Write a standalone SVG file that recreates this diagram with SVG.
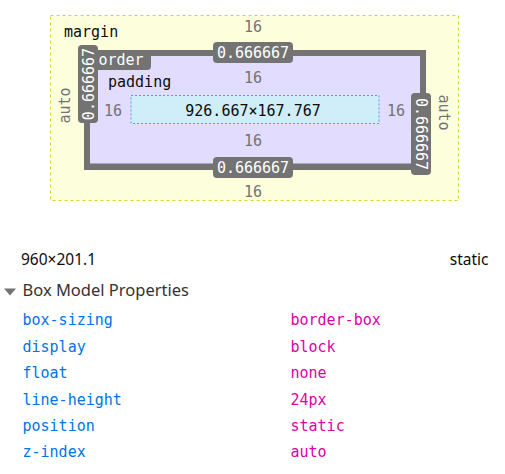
<svg xmlns="http://www.w3.org/2000/svg" width="505" height="474" viewBox="0 0 505 474">
<style>
.mono{font-family:"DejaVu Sans Mono","Liberation Mono",monospace;font-size:15px}
.g{fill:#737373}
.w{fill:#ffffff}
.k{fill:#0c0c0d}
.sans{font-family:"Noto Sans","Open Sans",sans-serif}
.prop{fill:#0074e8}
.val{fill:#dd00a9}
.mid{text-anchor:middle}
</style>
<rect width="505" height="474" fill="#ffffff"/>
<g id="margin">
<rect x="50.5" y="15.5" width="408" height="185" fill="#fdffdc" stroke="#d4d82a" stroke-width="1" stroke-dasharray="3,3"/>
<text class="mono k" x="64" y="37">margin</text>
<text class="mono g mid" x="253" y="31.5">16</text>
<text class="mono g mid" x="253" y="196.5">16</text>
<text class="mono g mid" transform="translate(66,105.5) rotate(-90)" y="4">auto</text>
<text class="mono g mid" transform="translate(442.5,112.5) rotate(90)" y="4">auto</text>
</g>
<g id="border">
<rect x="84" y="50" width="342" height="120" fill="#737373"/>
<rect x="90" y="56" width="330" height="107.5" fill="#e2dcff"/>
<path d="M84,50 H151 V66 Q151,70 147,70 H84 Z" fill="#737373"/>
<text class="mono w" x="98.5" y="65">order</text>
<rect x="213" y="42" width="80" height="21" rx="4" fill="#737373"/>
<text class="mono w mid" x="253" y="57.5">0.666667</text>
<rect x="213" y="157" width="80" height="21" rx="4" fill="#737373"/>
<text class="mono w mid" x="253" y="172.5">0.666667</text>
<rect x="78" y="45" width="20" height="78" rx="4" fill="#737373"/>
<text class="mono w mid" transform="translate(88,84) rotate(-90)" y="5.5">0.666667</text>
<rect x="411" y="93" width="20" height="82" rx="4" fill="#737373"/>
<text class="mono w mid" transform="translate(421,134) rotate(90)" y="5.5">0.666667</text>
</g>
<g id="padding">
<text class="mono k" x="108" y="87">padding</text>
<text class="mono g mid" x="253" y="82.5">16</text>
<text class="mono g mid" x="253" y="146">16</text>
<text class="mono g mid" x="113" y="115.5">16</text>
<text class="mono g mid" x="396" y="115.5">16</text>
</g>
<g id="content">
<rect x="131" y="95.5" width="248" height="28" fill="#cfeefa" stroke="#4ea1f5" stroke-width="1" stroke-dasharray="2,2"/>
<text class="mono k mid" x="253" y="116">926.667×167.767</text>
</g>
<g id="summary">
<text class="sans k" x="21" y="265" font-size="15.5">960×201.1</text>
<text class="sans k" x="488.5" y="265" font-size="15.5" text-anchor="end">static</text>
<path d="M4,288.5 H16 L10,295.5 Z" fill="#737373"/>
<text class="sans" x="22.5" y="295.5" font-size="16.5" fill="#333333">Box Model Properties</text>
</g>
<g id="properties">
<text class="mono prop" x="22.5" y="325.3">box-sizing</text>
<text class="mono val" x="290.5" y="325.3">border-box</text>
<text class="mono prop" x="22.5" y="351.7">display</text>
<text class="mono val" x="290.5" y="351.7">block</text>
<text class="mono prop" x="22.5" y="378.1">float</text>
<text class="mono val" x="290.5" y="378.1">none</text>
<text class="mono prop" x="22.5" y="404.5">line-height</text>
<text class="mono val" x="290.5" y="404.5">24px</text>
<text class="mono prop" x="22.5" y="430.9">position</text>
<text class="mono val" x="290.5" y="430.9">static</text>
<text class="mono prop" x="22.5" y="457.3">z-index</text>
<text class="mono val" x="290.5" y="457.3">auto</text>
</g>
<g id="connectors"/>
</svg>
